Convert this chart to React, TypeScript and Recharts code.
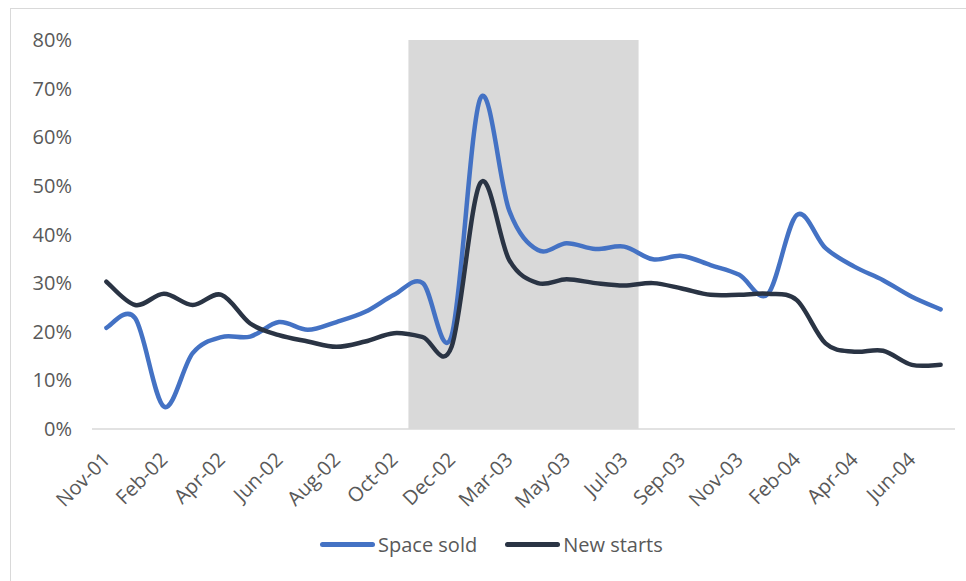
import React from 'react';
import { LineChart, Line, XAxis, YAxis, ReferenceArea } from 'recharts';

const months = [
  'Nov-01', 'Jan-02', 'Feb-02', 'Mar-02', 'Apr-02', 'May-02', 'Jun-02', 'Jul-02',
  'Aug-02', 'Sep-02', 'Oct-02', 'Nov-02', 'Dec-02', 'Feb-03', 'Mar-03', 'Apr-03',
  'May-03', 'Jun-03', 'Jul-03', 'Aug-03', 'Sep-03', 'Oct-03', 'Nov-03', 'Jan-04',
  'Feb-04', 'Mar-04', 'Apr-04', 'May-04', 'Jun-04', 'Jul-04',
];

const spaceSold = [
  20.8, 22.8, 4.6, 15.6, 18.9, 19.0, 22.0, 20.4, 22.0, 24.1,
  27.6, 30.0, 19.2, 68.0, 45.0, 36.8, 38.2, 37.0, 37.5, 34.9,
  35.6, 33.7, 31.7, 27.8, 44.0, 37.2, 33.4, 30.6, 27.2, 24.6,
];

const newStarts = [
  30.3, 25.5, 27.8, 25.5, 27.6, 21.7, 19.3, 18.0, 16.9, 18.0,
  19.7, 18.9, 16.9, 50.6, 34.8, 30.0, 30.8, 30.0, 29.5, 30.0,
  28.9, 27.6, 27.6, 27.8, 26.5, 17.6, 15.9, 16.1, 13.2, 13.2,
];

const yTicks = [0, 10, 20, 30, 40, 50, 60, 70, 80];

// shaded period
const shadeFrom = 'Nov-02';
const shadeTo = 'Jul-03';

const series = [
  { key: 'spaceSold', name: 'Space sold', color: '#4472c4' },
  { key: 'newStarts', name: 'New starts', color: '#2a3444' },
];

const data = months.map((m, i) => ({ month: m, spaceSold: spaceSold[i], newStarts: newStarts[i] }));

const FONT = '"Open Sans", "DejaVu Sans", sans-serif';
const TEXT = '#595959';

// Excel-style smoothed line (Catmull-Rom through every point)
function smoothCurve(context: any) {
  let pts: number[][] = [];
  return {
    areaStart() {},
    areaEnd() {},
    lineStart() {
      pts = [];
    },
    point(x: number, y: number) {
      pts.push([+x, +y]);
    },
    lineEnd() {
      if (!pts.length) return;
      context.moveTo(pts[0][0], pts[0][1]);
      for (let i = 0; i < pts.length - 1; i++) {
        const p0 = pts[i - 1] || pts[i];
        const p1 = pts[i];
        const p2 = pts[i + 1];
        const p3 = pts[i + 2] || p2;
        context.bezierCurveTo(
          p1[0] + (p2[0] - p0[0]) / 6,
          p1[1] + (p2[1] - p0[1]) / 6,
          p2[0] - (p3[0] - p1[0]) / 6,
          p2[1] - (p3[1] - p1[1]) / 6,
          p2[0],
          p2[1],
        );
      }
    },
  };
}

const MonthTick = (props: any) => {
  const { x, y, payload } = props;
  return (
    <text
      transform={`translate(${x + 5},${y + 24}) rotate(-45)`}
      textAnchor="end"
      fill={TEXT}
      fontSize={20}
      fontFamily={FONT}
    >
      {payload.value}
    </text>
  );
};

export default function App() {
  return (
    <div style={{ position: 'absolute', left: 0, top: 0, width: 966, height: 581, overflow: 'hidden', background: '#fff' }}>
      <div
        style={{
          position: 'absolute',
          left: 10,
          top: 8,
          width: 1000,
          height: 1000,
          border: '1px solid #d9d9d9',
        }}
      />
      <div style={{ position: 'absolute', left: 0, top: 0 }}>
        <LineChart width={966} height={581} data={data} margin={{ top: 40, right: 11, bottom: 0, left: 12 }}>
          <XAxis
            dataKey="month"
            scale="band"
            interval={1}
            height={152}
            axisLine={{ stroke: '#d9d9d9', strokeWidth: 1.5 }}
            tickLine={false}
            tick={<MonthTick />}
          />
          <YAxis
            width={80}
            domain={[0, 80]}
            ticks={yTicks}
            interval={0}
            axisLine={false}
            tickLine={false}
            tickMargin={14}
            tickFormatter={(v) => `${v}%`}
            tick={{ fill: TEXT, fontSize: 20, fontFamily: FONT }}
          />
          <ReferenceArea x1={shadeFrom} x2={shadeTo} y1={0} y2={80} fill="#d9d9d9" fillOpacity={1} stroke="none" />
          {series.map((s) => (
            <Line
              key={s.key}
              dataKey={s.key}
              name={s.name}
              type={smoothCurve as any}
              stroke={s.color}
              strokeWidth={4.5}
              strokeLinecap="round"
              dot={false}
              activeDot={false}
              isAnimationActive={false}
            />
          ))}
        </LineChart>
      </div>
      <div
        style={{
          position: 'absolute',
          left: 320,
          top: 531,
          display: 'flex',
          alignItems: 'center',
          gap: 28,
          fontFamily: FONT,
          fontSize: 20,
          color: TEXT,
        }}
      >
        {series.map((s) => (
          <div key={s.key} style={{ display: 'flex', alignItems: 'center' }}>
            <span style={{ display: 'inline-block', width: 55, height: 5, borderRadius: 3, background: s.color, marginRight: 3 }} />
            <span>{s.name}</span>
          </div>
        ))}
      </div>
    </div>
  );
}
